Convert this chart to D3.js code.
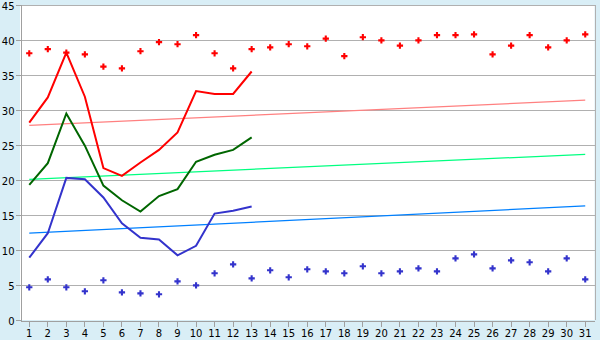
<!DOCTYPE html>
<html>
<head>
<meta charset="utf-8">
<script src="https://cdn.jsdelivr.net/npm/d3@7"></script>
<style>
  body { margin: 0; background: #d9eef6; }
  svg { display: block; font-family: "DejaVu Sans", Verdana, sans-serif; }
</style>
</head>
<body>
<svg width="600" height="340"></svg>
<script>
const days = d3.range(1, 32);
const yTicks = [0, 5, 10, 15, 20, 25, 30, 35, 40, 45];

// scatter series (all 31 days)
const highDots = [38.1, 38.7, 38.2, 37.95, 36.2, 35.95, 38.4, 39.7, 39.4, 40.7, 38.1, 35.95, 38.7, 38.95, 39.4,
  39.1, 40.2, 37.7, 40.4, 39.95, 39.2, 39.95, 40.7, 40.7, 40.8, 37.95, 39.2, 40.7, 38.95, 39.95, 40.8];
const lowDots = [4.67, 5.8, 4.67, 4.1, 5.67, 3.95, 3.8, 3.67, 5.52, 4.95, 6.67, 7.95, 5.95, 7.1, 6.1,
  7.24, 6.95, 6.67, 7.67, 6.67, 6.95, 7.38, 6.95, 8.81, 9.38, 7.38, 8.52, 8.24, 6.95, 8.81, 5.81];

// line series (days 1..13)
const redLine = [28.2, 31.8, 38.2, 31.9, 21.7, 20.6, 22.5, 24.3, 26.8, 32.7, 32.3, 32.3, 35.5];
const greenLine = [19.3, 22.4, 29.5, 24.9, 19.2, 17.1, 15.5, 17.7, 18.7, 22.6, 23.6, 24.3, 26.1];
const blueLine = [8.9, 12.4, 20.3, 20.1, 17.5, 13.8, 11.76, 11.5, 9.24, 10.6, 15.2, 15.6, 16.2];

// trend lines: value at day 1 and day 31
const trendDays = [1, 31];
const redTrend = [27.8, 31.4];
const greenTrend = [20.1, 23.67];
const blueTrend = [12.4, 16.3];

const svg = d3.select("svg");
const margin = {top: 5, right: 5.5, bottom: 20, left: 20};
const width = 600, height = 340;

const x = d3.scaleBand()
    .domain(days)
    .range([margin.left, width - margin.right]);
const cx = d => x(d) + x.bandwidth() / 2;
const y = d3.scaleLinear()
    .domain([0, 45])
    .range([height - margin.bottom, margin.top]);

// plot area
svg.append("rect")
    .attr("x", margin.left)
    .attr("y", margin.top)
    .attr("width", width - margin.right - margin.left)
    .attr("height", height - margin.bottom - margin.top)
    .attr("fill", "white");

// grid
svg.append("g")
    .attr("shape-rendering", "crispEdges")
  .selectAll("line")
  .data(yTicks.filter(d => d > 0))
  .join("line")
    .attr("x1", margin.left)
    .attr("x2", width - margin.right)
    .attr("y1", d => Math.round(y(d)) + 0.5)
    .attr("y2", d => Math.round(y(d)) + 0.5)
    .attr("stroke", "#b0b0b0");

// right border
svg.append("line")
    .attr("x1", width - margin.right + 0.5)
    .attr("x2", width - margin.right + 0.5)
    .attr("y1", margin.top)
    .attr("y2", height - margin.bottom)
    .attr("stroke", "#b0b0b0")
    .attr("shape-rendering", "crispEdges");

// axes
const yAxis = svg.append("g")
    .attr("transform", `translate(${margin.left + 0.5},0)`)
    .call(d3.axisLeft(y).tickValues(yTicks).tickSize(5).tickPadding(1));
const xAxis = svg.append("g")
    .attr("transform", `translate(0,${height - margin.bottom + 0.5})`)
    .call(d3.axisBottom(x).tickSize(6).tickPadding(3).tickSizeOuter(0));
[yAxis, xAxis].forEach(a => {
  a.attr("shape-rendering", "crispEdges");
  a.selectAll("path, line").attr("stroke", "#a0a0a0");
  a.selectAll("text").attr("font-size", 10).attr("fill", "#000")
    .attr("font-family", "DejaVu Sans, Verdana, sans-serif");
});
yAxis.selectAll("text").attr("dy", "0.4em");

// trend lines
const trendLine = d3.line()
    .x((d, i) => cx(trendDays[i]))
    .y(d => y(d));
[[redTrend, "#ff8080"], [greenTrend, "#00ff80"], [blueTrend, "#0080ff"]].forEach(([data, color]) => {
  svg.append("path")
      .datum(data)
      .attr("d", trendLine)
      .attr("fill", "none")
      .attr("stroke", color)
      .attr("stroke-width", 1.2);
});

// day lines
const seriesLine = d3.line()
    .x((d, i) => cx(days[i]))
    .y(d => y(d));
[[redLine, "#ff0000"], [greenLine, "#006600"], [blueLine, "#3333cc"]].forEach(([data, color]) => {
  svg.append("path")
      .datum(data)
      .attr("d", seriesLine)
      .attr("fill", "none")
      .attr("stroke", color)
      .attr("stroke-width", 2);
});

// dots
const marker = d3.symbol().type(d3.symbolCross).size(22);
[[highDots, "#ff0000"], [lowDots, "#3333cc"]].forEach(([data, color]) => {
  svg.append("g")
    .selectAll("path")
    .data(data)
    .join("path")
      .attr("transform", (d, i) => `translate(${cx(days[i])},${y(d)})`)
      .attr("d", marker)
      .attr("fill", color);
});
</script>
</body>
</html>
